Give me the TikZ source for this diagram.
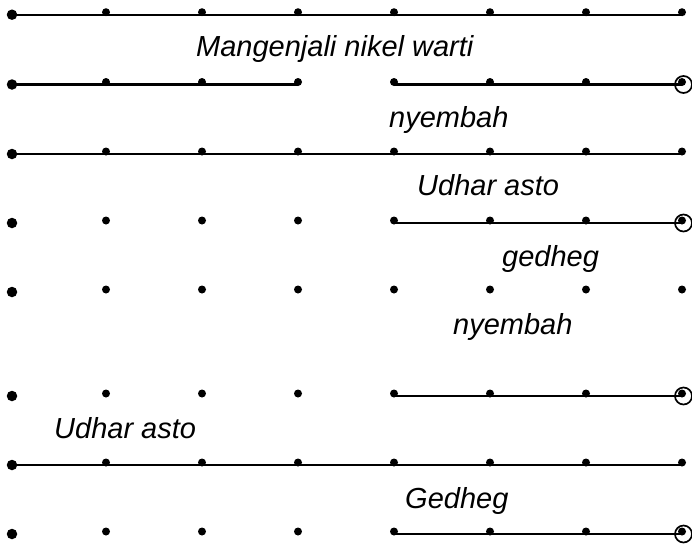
\documentclass[tikz,border=0pt]{standalone}
\usepackage{fontspec}
\setmainfont{Liberation Sans}
\begin{document}
\begin{tikzpicture}[x=1pt,y=-1pt,
  bigdot/.style={circle,fill=black,inner sep=0pt,minimum size=10.5pt},
  smalldot/.style={circle,fill=black,inner sep=0pt,minimum size=8pt},
  seg/.style={line width=2.2pt},
  ring/.style={circle,draw,line width=1.7pt,inner sep=0pt,minimum size=17pt},
  lab/.style={anchor=base west,inner sep=0pt,font=\fontsize{29}{33}\selectfont\itshape}]
\useasboundingbox (0,0) rectangle (692,547);
\foreach \r/\y in {1/14.7,2/84.5,3/154,4/223,5/292,6/396,7/465,8/534}{
  \coordinate (c\r-0) at (12,\y);
  \node[bigdot] (d\r-0) at (c\r-0) {};
  \foreach \c in {1,...,7}{
    \coordinate (c\r-\c) at (10+96*\c,\y);
    \node[smalldot] (d\r-\c) at ([yshift=2.5pt]c\r-\c) {};
  }
}
% lines
\draw[seg] (c1-0) -- (c1-7);
\draw[seg] (c2-0) -- (c2-3);
\draw[seg] (c2-4) -- (c2-7);
\draw[seg] (c3-0) -- (c3-7);
\draw[seg] (c4-4) -- (c4-7);
\draw[seg] (c6-4) -- (c6-7);
\draw[seg] (c7-0) -- (c7-7);
\draw[seg] (c8-4) -- (c8-7);
% rings
\node[ring] (r2) at ([xshift=1.5pt]c2-7) {};
\node[ring] (r4) at ([xshift=1.5pt]c4-7) {};
\node[ring] (r6) at ([xshift=1.5pt]c6-7) {};
\node[ring] (r8) at ([xshift=1.5pt]c8-7) {};
% labels
\node[lab] (t1) at (196,56) {Mangenjali nikel warti};
\node[lab] (t2) at (389,127) {nyembah};
\node[lab] (t3) at (417,195) {Udhar asto};
\node[lab] (t4) at (502,266) {gedheg};
\node[lab] (t5) at (453,334) {nyembah};
\node[lab] (t6) at (54,438) {Udhar asto};
\node[lab] (t7) at (405,508) {Gedheg};
\end{tikzpicture}
\end{document}
